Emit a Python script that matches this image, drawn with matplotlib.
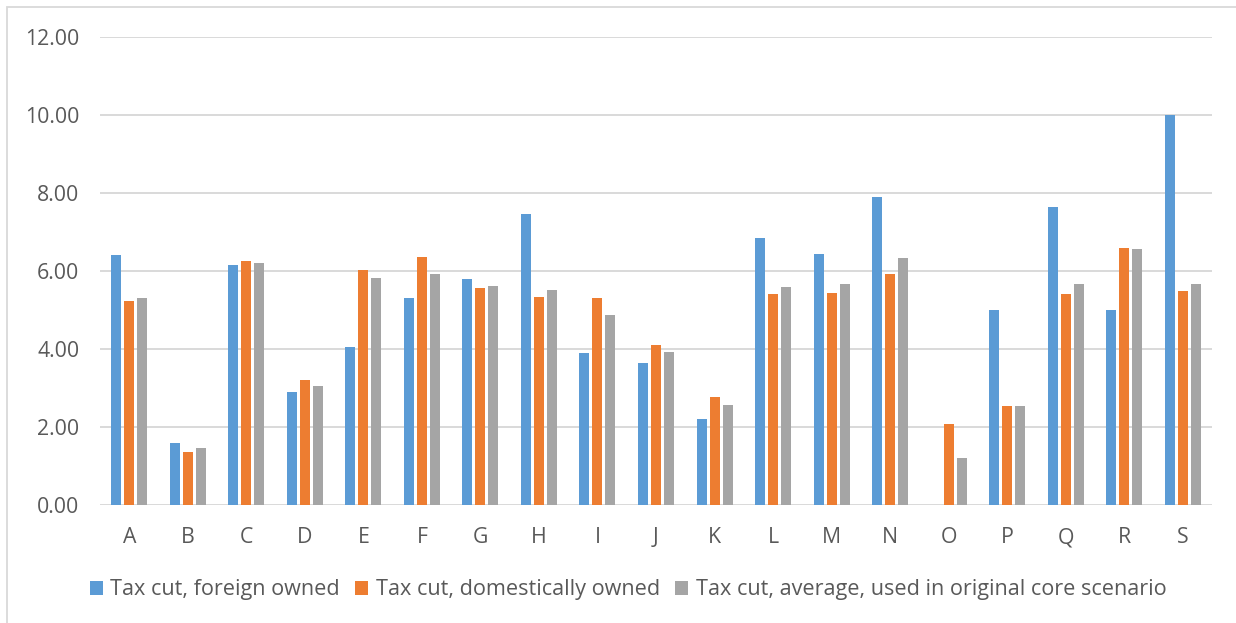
import numpy as np
import matplotlib
matplotlib.use("Agg")
from matplotlib import pyplot as plt
from matplotlib.patches import Rectangle

plt.rcParams['font.family'] = ['Open Sans', 'DejaVu Sans']

sectors = ["A", "B", "C", "D", "E", "F", "G", "H", "I", "J",
           "K", "L", "M", "N", "O", "P", "Q", "R", "S"]
foreign_owned = [6.40, 1.58, 6.15, 2.91, 4.06, 5.30, 5.80, 7.45, 3.90, 3.63,
                 2.21, 6.84, 6.44, 7.90, 0.00, 5.00, 7.63, 5.00, 10.00]
domestic_owned = [5.22, 1.35, 6.25, 3.20, 6.03, 6.36, 5.57, 5.34, 5.31, 4.09,
                  2.77, 5.42, 5.44, 5.93, 2.07, 2.54, 5.40, 6.60, 5.49]
average_core = [5.32, 1.47, 6.21, 3.05, 5.82, 5.92, 5.61, 5.51, 4.86, 3.92,
                2.56, 5.59, 5.66, 6.33, 1.20, 2.54, 5.67, 6.56, 5.67]
series_names = ["Tax cut, foreign owned",
                "Tax cut, domestically owned",
                "Tax cut, average, used in original core scenario"]
colors = ["#5B9BD5", "#ED7D31", "#A5A5A5"]
y_ticks = [0, 2, 4, 6, 8, 10, 12]

fig = plt.figure(figsize=(12.36, 6.23), dpi=100)
ax = fig.add_axes([100 / 1236, 1 - 505 / 623, 1112 / 1236, 468 / 623])

x = np.arange(len(sectors))
pitch = 0.222
width = 0.171
handles = []
for i, (vals, name, col) in enumerate(zip([foreign_owned, domestic_owned, average_core],
                                          series_names, colors)):
    h = ax.bar(x + (i - 1) * pitch, vals, width=width, color=col, label=name, zorder=3)
    handles.append(h)

ax.set_xlim(-0.5, len(sectors) - 0.5)
ax.set_ylim(0, 12)
ax.set_yticks(y_ticks)
ax.set_yticklabels([f"{v:.2f}" for v in y_ticks])
ax.set_xticks(x)
ax.set_xticklabels(sectors)
ax.yaxis.grid(True, color="#D9D9D9", linewidth=1.4, zorder=0)
ax.set_axisbelow(True)
for s in ax.spines.values():
    s.set_visible(False)
ax.tick_params(axis="both", length=0, labelsize=15.3, colors="#595959")
ax.tick_params(axis="y", pad=15)
ax.tick_params(axis="x", pad=16)

fig.legend(handles=handles, labels=series_names, loc="center",
           bbox_to_anchor=(628 / 1236, 1 - 590 / 623), ncol=3, frameon=False,
           fontsize=15.6, handlelength=0.6, handleheight=0.6, handletextpad=0.35,
           columnspacing=0.7, labelcolor="#595959")

# light frame around the chart area
fig.patches.append(Rectangle((7 / 1236, -0.05), 1.1, 1.05 - 7 / 623,
                             transform=fig.transFigure, fill=False,
                             edgecolor="#D9D9D9", linewidth=1.3))

fig.savefig("out.png", dpi=100)
